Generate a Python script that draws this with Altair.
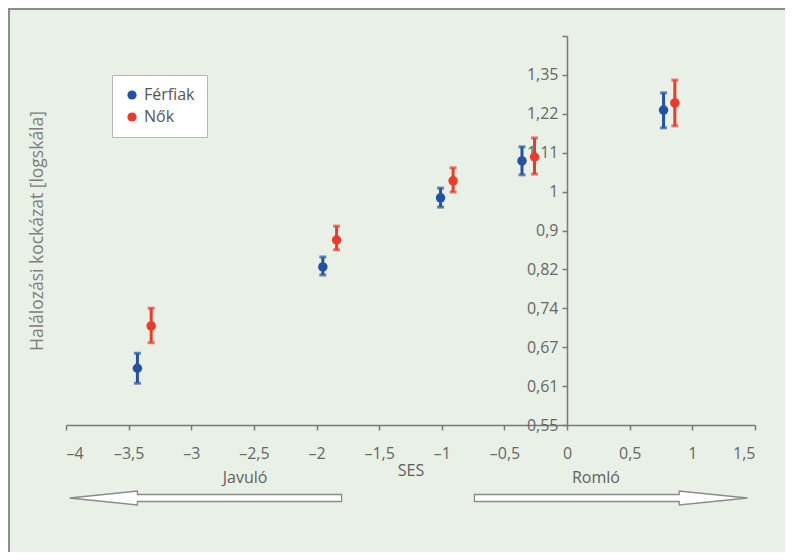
import altair as alt
import pandas as pd

# ---- data ----
groups = ["Férfiak", "Nők"]
colors = ["#2352a3", "#ec3a2b"]

ses_ferfi = [-3.43, -1.95, -1.01, -0.36, 0.77]
hr_ferfi = [0.635, 0.824, 0.984, 1.082, 1.233]
lo_ferfi = [0.611, 0.807, 0.961, 1.044, 1.178]
hi_ferfi = [0.660, 0.845, 1.009, 1.122, 1.289]

ses_no = [-3.32, -1.84, -0.91, -0.26, 0.86]
hr_no = [0.708, 0.883, 1.028, 1.093, 1.256]
lo_no = [0.678, 0.861, 0.999, 1.046, 1.184]
hi_no = [0.741, 0.915, 1.063, 1.148, 1.332]

x_ticks = [-4, -3.5, -3, -2.5, -2, -1.5, -1, -0.5, 0, 0.5, 1, 1.5]
y_ticks = [0.5488, 0.6065, 0.6703, 0.7408, 0.8187, 0.9048, 1.0, 1.1052, 1.2214, 1.3499, 1.4918]

direction_labels = ["Javuló", "Romló"]
direction_x = [-2.57, 0.23]

# arrow outlines (x in SES units)
arrow_id = ["L", "L", "L", "L", "R", "R", "R", "R"]
arrow_x = [-3.97, -3.43, -3.4299, -1.80, -0.74, 0.895, 0.8951, 1.44]
arrow_top = [462, 455, 458.5, 458.5, 458.5, 458.5, 455, 462]
arrow_bot = [462, 469, 465.5, 465.5, 465.5, 465.5, 469, 462]

df = pd.DataFrame({
    "nem": [groups[0]] * 5 + [groups[1]] * 5,
    "ses": ses_ferfi + ses_no,
    "hr": hr_ferfi + hr_no,
    "lo": lo_ferfi + lo_no,
    "hi": hi_ferfi + hi_no,
})
arrows = pd.DataFrame({"id": arrow_id, "x": arrow_x, "yt": arrow_top, "yb": arrow_bot})
dirs = pd.DataFrame({"label": direction_labels, "x": direction_x})

FONT = "Open Sans"
GRAY = "#7a7a7a"

xscale = alt.Scale(domain=[-4, 1.5], nice=False, zero=False)
yscale = alt.Scale(type="log", domain=[y_ticks[0], y_ticks[-1]], nice=False, zero=False)
cscale = alt.Scale(domain=groups, range=colors)
legend = alt.Legend(title=None, orient="none", legendX=46, legendY=39,
                    padding=12, fillColor="white", strokeColor="#b5b5b5",
                    labelFont=FONT, labelFontSize=16, labelColor="#555555",
                    symbolType="circle", symbolSize=85, rowPadding=6,
                    labelOffset=4, symbolOpacity=1, symbolStrokeWidth=0)
color = alt.Color("nem:N", scale=cscale, legend=legend)

xaxis = alt.Axis(values=x_ticks, grid=False, tickSize=5, labelPadding=15,
                 labelExpr="replace(replace(format(datum.value, '.1~f'), '.', ','), '\u2212', '\u2013')",
                 domainColor=GRAY, tickColor=GRAY, domainWidth=1.5, tickWidth=1.5,
                 labelFont=FONT, labelFontSize=16, labelColor="#666666",
                 title="SES", titleFont=FONT, titleFontSize=16, titleFontWeight="normal",
                 titleColor="#606060", titlePadding=1)
yaxis = alt.Axis(values=y_ticks, grid=False, tickSize=5, labelPadding=4, offset=-501,
                 labelExpr="datum.value > 1.4 ? '' : replace(format(datum.value, '.2~f'), '.', ',')",
                 domainColor=GRAY, tickColor=GRAY, domainWidth=1.5, tickWidth=1.5,
                 labelFont=FONT, labelFontSize=16, labelColor="#666666",
                 title="Halálozási kockázat [logskála]", titleFont=FONT, titleFontSize=17.5,
                 titleFontWeight="normal", titleColor="#7d7d7d", titleAngle=270,
                 titleX=-530, titleY=194.5, titleAlign="center", titleBaseline="middle")

base = alt.Chart(df)

bars = base.mark_rule(strokeWidth=3).encode(
    x=alt.X("ses:Q", scale=xscale, axis=xaxis),
    y=alt.Y("lo:Q", scale=yscale, axis=yaxis),
    y2="hi:Q",
    color=color,
)
caps_lo = base.mark_tick(orient="horizontal", size=7, thickness=3).encode(
    x=alt.X("ses:Q", scale=xscale), y=alt.Y("lo:Q", scale=yscale), color=color)
caps_hi = base.mark_tick(orient="horizontal", size=7, thickness=3).encode(
    x=alt.X("ses:Q", scale=xscale), y=alt.Y("hi:Q", scale=yscale), color=color)
points = base.mark_circle(size=90, opacity=1).encode(
    x=alt.X("ses:Q", scale=xscale), y=alt.Y("hr:Q", scale=yscale), color=color)

arrow_layer = alt.Chart(arrows).mark_area(fill="white", stroke="#8a8a8a", strokeWidth=1.3,
                                         clip=False, interpolate="linear").encode(
    x=alt.X("x:Q", scale=xscale),
    y=alt.Y("yt:Q", scale=None),
    y2="yb:Q",
    detail="id:N",
)

dir_text = alt.Chart(dirs).mark_text(font=FONT, fontSize=16, color="#606060",
                                     baseline="middle", align="center").encode(
    x=alt.X("x:Q", scale=xscale), y=alt.value(442), text="label:N")

frame_top = alt.Chart(pd.DataFrame({"a": [0]})).mark_rule(color="#8c8c8c", strokeWidth=2).encode(
    x=alt.value(-58), x2=alt.value(719), y=alt.value(-27))
frame_left = alt.Chart(pd.DataFrame({"a": [0]})).mark_rule(color="#8c8c8c", strokeWidth=2).encode(
    x=alt.value(-57), y=alt.value(-28), y2=alt.value(516))

chart = alt.layer(frame_top, frame_left, arrow_layer, dir_text, bars, caps_lo, caps_hi, points).properties(
    width=689, height=389,
    autosize=alt.AutoSizeParams(type="none"),
    padding={"left": 58, "top": 28, "right": 30, "bottom": 127},
    background="#e9f1e6",
).configure_view(stroke=None)

chart.save("out.html", embed_options={"renderer": "svg", "actions": False})
